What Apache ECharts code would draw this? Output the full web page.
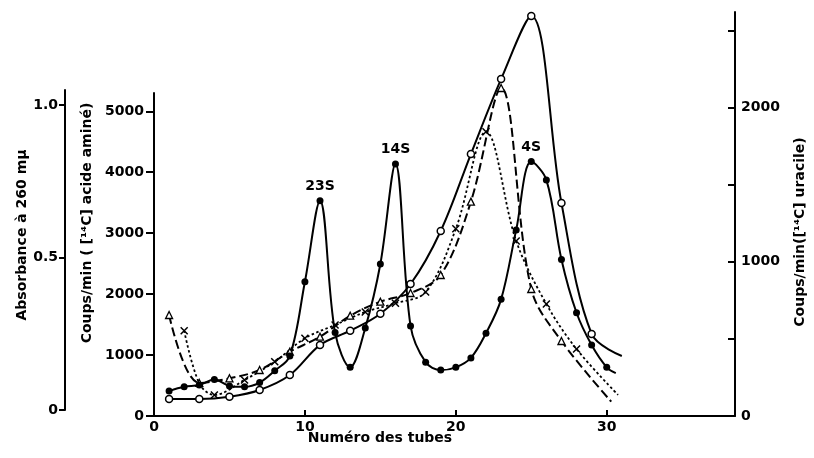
<!DOCTYPE html>
<html>
<head>
<meta charset="utf-8">
<script src="https://cdn.jsdelivr.net/npm/echarts@6/dist/echarts.min.js"></script>
<style>
  html, body { margin: 0; padding: 0; background: #fff; }
  #chart { width: 814px; height: 458px; }
</style>
</head>
<body>
<div id="chart"></div>
<script>
// absorbance à 260 (points pleins) - tubes 1..30
const absTube = [1, 2, 3, 4, 5, 6, 7, 8, 9, 10, 11, 12, 13, 14, 15, 16, 17, 18, 19, 20, 21, 22, 23, 24, 25, 26, 27, 28, 29, 30];
const absValue = [0.062, 0.076, 0.082, 0.10, 0.079, 0.076, 0.09, 0.129, 0.177, 0.421, 0.687, 0.254, 0.14, 0.269, 0.479,
                  0.807, 0.276, 0.157, 0.131, 0.14, 0.171, 0.252, 0.363, 0.591, 0.815, 0.755, 0.494, 0.319, 0.213, 0.14];
const absLineEnd = [30.6, 0.121];
const peakTube = [11, 16, 25];
const peakName = ['23S', '14S', '4S'];

// uracile (cercles ouverts)
const uraTube = [1, 3, 5, 7, 9, 11, 13, 15, 17, 19, 21, 23, 25, 27, 29];
const uraValue = [110, 110, 125, 169, 266, 460, 553, 663, 856, 1200, 1699, 2185, 2594, 1381, 532];
const uraLineEnd = [31, 389];

// acide aminé (triangles, tirets)
const triTube = [1, 3, 5, 7, 9, 11, 13, 15, 17, 19, 21, 23, 25, 27];
const triValue = [1657, 542, 619, 755, 1055, 1301, 1646, 1876, 2018, 2314, 3517, 5382, 2084, 1231];
const triLineEnd = [30.3, 235];

// acide aminé (croix, pointillés)
const crossTube = [2, 3, 4, 6, 8, 10, 12, 14, 16, 18, 20, 22, 24, 26, 28];
const crossValue = [1400, 537, 345, 591, 891, 1275, 1493, 1707, 1849, 2035, 3072, 4665, 2872, 1838, 1099];
const crossNoMark = [3];
const crossLineEnd = [30.75, 345];

const xTicks = [0, 10, 20, 30];
const uraTicks = [0, 500, 1000, 1500, 2000, 2500];
const uraLabels = [0, 1000, 2000];
const aaTicks = [0, 1000, 2000, 3000, 4000, 5000];
const absTicks = [0, 0.5, 1.0];

const FONT = 'DejaVu Sans';
const FS = 14;
const FW = 'bold';
const black = '#000';

const chart = echarts.init(document.getElementById('chart'), null, { renderer: 'canvas' });

function hiddenX(grid) {
    return { type: 'value', gridIndex: grid, min: 0, max: 38.5, show: false };
}

function pairs(tubes, values) {
    return tubes.map((t, i) => [t, values[i]]);
}

const plain = v => String(v);
const txt = { color: black, fontSize: FS, fontFamily: FONT, fontWeight: FW };
const font = FW + ' ' + FS + 'px "DejaVu Sans"';

const absData = pairs(absTube, absValue).map(p => {
    const k = peakTube.indexOf(p[0]);
    if (k < 0) return p;
    return {
        value: p,
        label: Object.assign({ show: true, formatter: peakName[k], position: 'top', distance: 4 }, txt)
    };
}).concat([{ value: absLineEnd, symbol: 'none' }]);

const crossData = pairs(crossTube, crossValue).map(p =>
    crossNoMark.indexOf(p[0]) >= 0 ? { value: p, symbol: 'none' } : p
).concat([{ value: crossLineEnd, symbol: 'none' }]);

chart.setOption({
    animation: false,
    backgroundColor: '#fff',
    grid: [
        { left: 154, right: 79, top: 12, bottom: 42 },   // axe x + uracile
        { left: 154, right: 79, top: 93, bottom: 42 },   // acide aminé
        { left: 154, right: 79, top: 90, bottom: 48 }    // absorbance
    ],
    xAxis: [
        {
            type: 'value', gridIndex: 0, min: 0, max: 38.5,
            axisLine: { onZero: false, lineStyle: { color: black, width: 2 } },
            axisTick: { inside: true, length: 6, customValues: xTicks, lineStyle: { color: black, width: 2 } },
            axisLabel: Object.assign({ customValues: xTicks, margin: 4, formatter: plain }, txt),
            splitLine: { show: false }
        },
        hiddenX(1),
        hiddenX(2)
    ],
    yAxis: [
        {
            type: 'value', gridIndex: 0, position: 'right', min: 0, max: 2620,
            axisLine: { show: true, onZero: false, lineStyle: { color: black, width: 2 } },
            axisTick: { show: true, inside: true, length: 7, customValues: uraTicks, lineStyle: { color: black, width: 2 } },
            axisLabel: Object.assign({ customValues: uraLabels, margin: 6, formatter: plain }, txt),
            splitLine: { show: false }
        },
        {
            type: 'value', gridIndex: 1, position: 'left', min: 0, max: 5300,
            axisLine: { show: true, onZero: false, lineStyle: { color: black, width: 2 } },
            axisTick: { show: true, length: 8, customValues: aaTicks, lineStyle: { color: black, width: 2 } },
            axisLabel: Object.assign({ customValues: aaTicks, margin: 10, formatter: plain }, txt),
            splitLine: { show: false }
        },
        {
            type: 'value', gridIndex: 2, position: 'left', offset: 89, min: 0, max: 1.05,
            axisLine: { show: true, onZero: false, lineStyle: { color: black, width: 2 } },
            axisTick: { show: true, length: 6, customValues: absTicks, lineStyle: { color: black, width: 2 } },
            axisLabel: Object.assign({
                customValues: absTicks, margin: 7,
                formatter: v => v === 0 ? '0' : v.toFixed(1)
            }, txt),
            splitLine: { show: false }
        }
    ],
    graphic: [
        { type: 'text', x: 380, y: 438, style: { text: 'Numéro des tubes', font: font, fill: black, align: 'center', verticalAlign: 'middle' } },
        { type: 'text', x: 22, y: 235, rotation: Math.PI / 2, style: { text: 'Absorbance à 260 mμ', font: font, fill: black, align: 'center', verticalAlign: 'middle' } },
        { type: 'text', x: 87, y: 223, rotation: Math.PI / 2, style: { text: 'Coups/min ( [¹⁴C] acide aminé)', font: font, fill: black, align: 'center', verticalAlign: 'middle' } },
        { type: 'text', x: 800, y: 232, rotation: Math.PI / 2, style: { text: 'Coups/min([¹⁴C] uracile)', font: font, fill: black, align: 'center', verticalAlign: 'middle' } }
    ],
    series: [
        {
            name: 'uracile', type: 'line', xAxisIndex: 0, yAxisIndex: 0, smooth: 0.35, clip: false,
            symbol: 'circle', symbolSize: 7,
            itemStyle: { color: '#fff', borderColor: black, borderWidth: 1.5 },
            lineStyle: { color: black, width: 2 },
            data: pairs(uraTube, uraValue).concat([{ value: uraLineEnd, symbol: 'none' }])
        },
        {
            name: 'triangles', type: 'line', xAxisIndex: 1, yAxisIndex: 1, smooth: 0.35, clip: false,
            symbol: 'triangle', symbolSize: 7,
            itemStyle: { color: '#fff', borderColor: black, borderWidth: 1.3 },
            lineStyle: { color: black, width: 2, type: [9, 4] },
            data: pairs(triTube, triValue).concat([{ value: triLineEnd, symbol: 'none' }])
        },
        {
            name: 'croix', type: 'line', xAxisIndex: 1, yAxisIndex: 1, smooth: 0.35, clip: false,
            symbol: 'path://M0,0L10,10M10,0L0,10', symbolSize: 7,
            itemStyle: { color: '#fff', borderColor: black, borderWidth: 1.5 },
            lineStyle: { color: black, width: 1.8, type: [2.5, 2.5] },
            data: crossData
        },
        {
            name: 'absorbance', type: 'line', xAxisIndex: 2, yAxisIndex: 2, smooth: 0.35, clip: false,
            symbol: 'circle', symbolSize: 7,
            itemStyle: { color: black },
            lineStyle: { color: black, width: 2 },
            data: absData
        }
    ]
});
</script>
</body>
</html>
